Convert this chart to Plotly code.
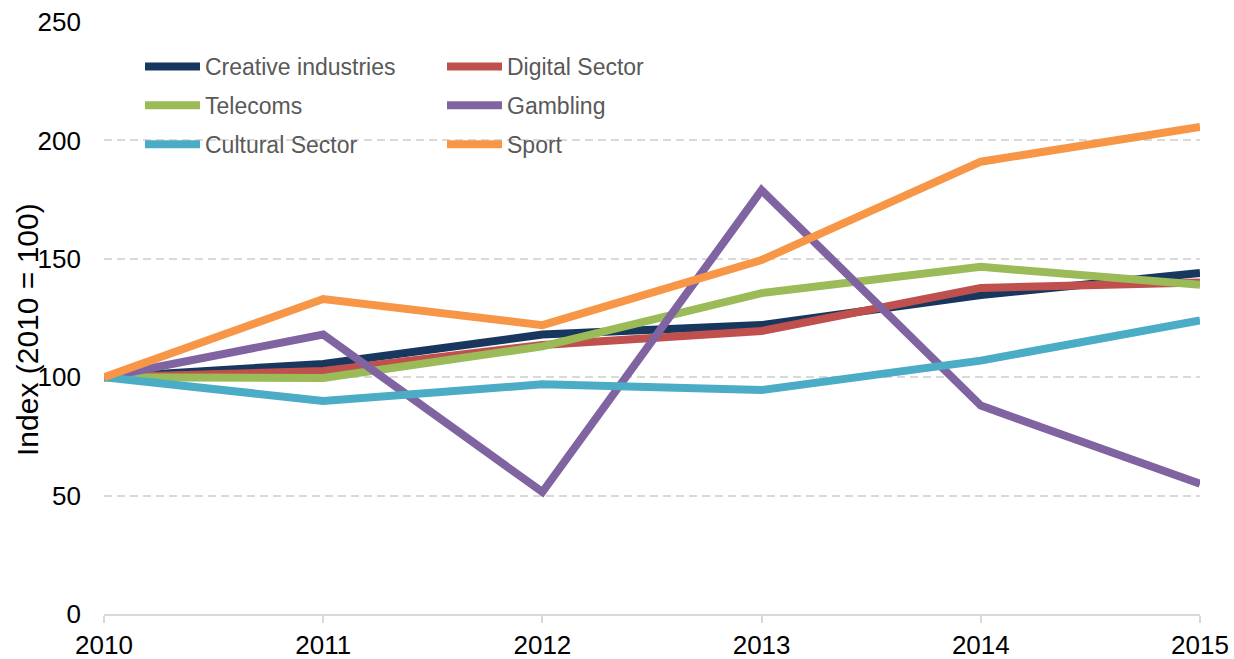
import plotly.graph_objects as go

years = [2010, 2011, 2012, 2013, 2014, 2015]
series_names = ["Creative industries", "Digital Sector", "Telecoms",
                "Gambling", "Cultural Sector", "Sport"]
creative = [100, 105.6, 118, 122, 134.7, 144]
digital = [100, 102.6, 113.6, 119.5, 137.7, 140]
telecoms = [100, 99.7, 113, 135.5, 146.6, 139]
gambling = [100, 118, 51.5, 179, 88, 55]
cultural = [100, 90, 97, 94.6, 107, 124]
sport = [100, 133, 122, 149.5, 191, 205.7]
colors = ["#17375E", "#C0504D", "#9BBB59", "#8064A2", "#4BACC6", "#F79646"]
legend_ids = ["legend", "legend2", "legend", "legend2", "legend", "legend2"]
values = [creative, digital, telecoms, gambling, cultural, sport]
y_ticks = [0, 50, 100, 150, 200, 250]

fig = go.Figure()
for name, vals, col, lg in zip(series_names, values, colors, legend_ids):
    fig.add_trace(go.Scatter(
        x=years, y=vals, name=name, mode="lines",
        line=dict(color=col, width=8),
        legend=lg, legendgroup=name,
    ))

W, H = 1234, 659
L, R, T, B = 104, 34, 22, 45
pw = W - L - R
ph = H - T - B


def px_x(x):
    return (x - L) / pw


def px_y(y):
    return (H - B - y) / ph


legend_common = dict(
    font=dict(family="Liberation Sans, Arial", size=23, color="#595959"),
    bgcolor="rgba(0,0,0,0)", orientation="v", yanchor="top", xanchor="left",
    tracegroupgap=6, itemwidth=55,
)

fig.update_layout(
    width=W, height=H,
    margin=dict(l=L, r=R, t=T, b=B),
    paper_bgcolor="white", plot_bgcolor="white",
    font=dict(family="Liberation Sans, Arial", color="black"),
    xaxis=dict(range=[2010, 2015], tickmode="array", tickvals=years,
               showgrid=False, zeroline=False, showline=True,
               linecolor="#D9D9D9", linewidth=2, ticks="outside",
               tickcolor="#D9D9D9", ticklen=7, tickwidth=2,
               tickfont=dict(size=26, color="black"), automargin=False,
               ticklabelstandoff=0, ticklabeloverflow="allow"),
    yaxis=dict(range=[0, 250], tickmode="array", tickvals=y_ticks,
               showgrid=True, gridcolor="#D9D9D9", gridwidth=2,
               griddash="8px,5px", zeroline=False, showline=False,
               tickfont=dict(size=26, color="black"), automargin=False,
               ticklabelstandoff=22, ticklabeloverflow="allow"),
    legend=dict(x=px_x(140), y=px_y(45), **legend_common),
    legend2=dict(x=px_x(442), y=px_y(45), **legend_common),
    showlegend=True,
)

fig.add_annotation(
    text="Index (2010 = 100)", xref="paper", yref="paper",
    x=px_x(27), y=px_y(330), xanchor="center", yanchor="middle",
    textangle=-90, showarrow=False,
    font=dict(family="Liberation Sans, Arial", size=30, color="black"),
)

fig.write_html(
    "out.html",
    config={"displayModeBar": False},
    post_script="document.body.style.margin='0';"
                "document.body.style.overflow='hidden';",
)
